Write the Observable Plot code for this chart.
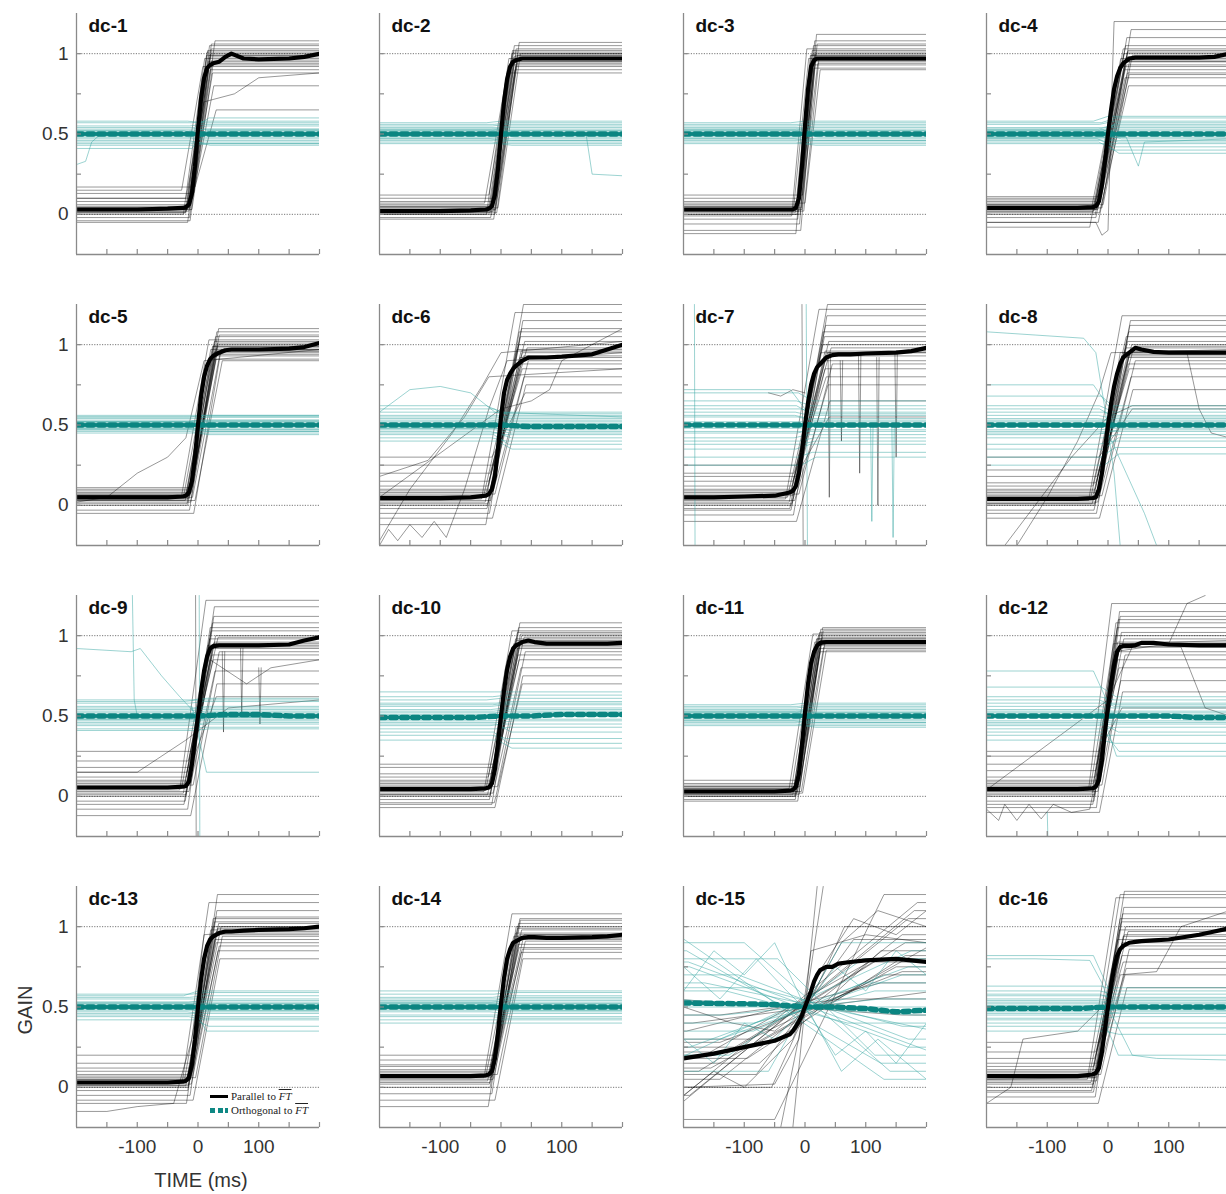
<!DOCTYPE html>
<html>
<head>
<meta charset="utf-8">
<script src="https://cdn.jsdelivr.net/npm/d3@7"></script>
<script src="https://cdn.jsdelivr.net/npm/@observablehq/plot@0.6"></script>
<style>
  html, body { margin: 0; padding: 0; background: #fff; overflow: hidden; width: 1226px; height: 1194px; }
  #fig { position: relative; width: 1226px; height: 1194px; font-family: "Liberation Sans", Arial, sans-serif; color: #333; }
  .panel { position: absolute; }
  .axis-title { position: absolute; font-size: 20px; color: #333; white-space: nowrap; }
  #legend { position: absolute; left: 210px; top: 1090px; font-family: "Liberation Serif", "DejaVu Serif", serif; font-size: 11px; color: #222; line-height: 13.5px; }
  #legend .row { display: flex; align-items: center; }
  #legend .sw { display: inline-block; width: 18px; margin-right: 3px; }
  #legend .sw.par { height: 3px; background: #000; }
  #legend .sw.orth { height: 5px; background: repeating-linear-gradient(to right, #0e8884 0 5px, transparent 5px 7.5px); }
  #legend .ft { font-style: italic; text-decoration: overline; }
</style>
</head>
<body>
<div id="fig"></div>
<script>
// Sixteen recording sessions: gain of the response parallel / orthogonal to FT around the switch time.
const panels = ["dc-1","dc-2","dc-3","dc-4","dc-5","dc-6","dc-7","dc-8",
                "dc-9","dc-10","dc-11","dc-12","dc-13","dc-14","dc-15","dc-16"];

// Mean gain parallel to FT, sampled at meanTimes (ms)
const meanTimes = [-200,-150,-100,-50,-25,-20,-15,-10,-5,0,5,10,15,20,25,35,45,55,75,100,150,175,200];
const parallelMean = [
  [0.03,0.03,0.03,0.035,0.04,0.045,0.06,0.13,0.3,0.53,0.72,0.85,0.91,0.93,0.94,0.95,0.98,1.0,0.97,0.965,0.97,0.98,1.0],
  [0.02,0.02,0.02,0.025,0.03,0.035,0.05,0.12,0.28,0.5,0.7,0.84,0.92,0.95,0.96,0.97,0.97,0.97,0.97,0.97,0.97,0.97,0.97],
  [0.03,0.03,0.03,0.03,0.03,0.03,0.04,0.1,0.3,0.55,0.78,0.92,0.96,0.97,0.97,0.97,0.97,0.97,0.97,0.97,0.97,0.97,0.97],
  [0.04,0.04,0.04,0.04,0.045,0.05,0.08,0.18,0.33,0.5,0.65,0.78,0.86,0.91,0.94,0.97,0.975,0.975,0.975,0.975,0.975,0.98,1.0],
  [0.05,0.05,0.05,0.05,0.055,0.06,0.08,0.15,0.3,0.5,0.68,0.8,0.87,0.91,0.93,0.95,0.965,0.97,0.97,0.97,0.975,0.985,1.01],
  [0.045,0.045,0.045,0.05,0.06,0.07,0.1,0.18,0.35,0.55,0.7,0.78,0.82,0.85,0.87,0.9,0.92,0.92,0.92,0.925,0.94,0.97,1.0],
  [0.05,0.05,0.055,0.06,0.08,0.09,0.12,0.2,0.33,0.5,0.64,0.75,0.82,0.86,0.88,0.92,0.935,0.94,0.94,0.945,0.95,0.96,0.98],
  [0.04,0.04,0.04,0.04,0.045,0.05,0.1,0.2,0.35,0.5,0.63,0.74,0.82,0.88,0.92,0.95,0.98,0.97,0.955,0.95,0.95,0.95,0.95],
  [0.055,0.055,0.055,0.055,0.06,0.065,0.09,0.2,0.35,0.5,0.65,0.78,0.87,0.92,0.935,0.94,0.94,0.94,0.94,0.94,0.945,0.97,0.99],
  [0.045,0.045,0.045,0.045,0.05,0.055,0.08,0.17,0.33,0.5,0.66,0.79,0.87,0.92,0.94,0.96,0.97,0.96,0.95,0.95,0.95,0.95,0.955],
  [0.03,0.03,0.03,0.03,0.035,0.04,0.06,0.14,0.32,0.52,0.7,0.83,0.9,0.94,0.955,0.96,0.96,0.96,0.96,0.96,0.96,0.96,0.96],
  [0.045,0.045,0.045,0.045,0.05,0.06,0.1,0.22,0.4,0.56,0.7,0.82,0.9,0.93,0.935,0.935,0.94,0.955,0.955,0.945,0.94,0.94,0.94],
  [0.03,0.03,0.03,0.03,0.035,0.04,0.06,0.14,0.3,0.5,0.67,0.8,0.88,0.92,0.94,0.96,0.97,0.97,0.975,0.98,0.985,0.99,1.0],
  [0.07,0.07,0.07,0.07,0.075,0.08,0.1,0.18,0.34,0.52,0.68,0.8,0.86,0.9,0.91,0.93,0.935,0.935,0.93,0.93,0.935,0.94,0.95],
  [0.18,0.21,0.25,0.29,0.33,0.35,0.38,0.41,0.45,0.5,0.55,0.6,0.66,0.7,0.73,0.75,0.75,0.77,0.78,0.79,0.8,0.79,0.78],
  [0.07,0.07,0.07,0.07,0.08,0.09,0.12,0.22,0.36,0.5,0.63,0.74,0.82,0.86,0.88,0.9,0.905,0.91,0.915,0.92,0.95,0.97,0.99]
];

// Mean gain orthogonal to FT, sampled at orthTimes (ms)
const orthTimes = [-200,-100,-50,0,50,100,150,200];
const orthMean = [
  [0.5,0.5,0.5,0.5,0.5,0.5,0.5,0.5],
  [0.5,0.5,0.5,0.5,0.5,0.5,0.5,0.5],
  [0.5,0.5,0.5,0.5,0.5,0.5,0.5,0.5],
  [0.5,0.5,0.5,0.5,0.5,0.5,0.5,0.5],
  [0.5,0.5,0.5,0.5,0.5,0.5,0.5,0.5],
  [0.5,0.5,0.5,0.5,0.49,0.49,0.49,0.49],
  [0.5,0.5,0.5,0.5,0.5,0.5,0.5,0.5],
  [0.5,0.5,0.5,0.5,0.5,0.5,0.5,0.5],
  [0.5,0.5,0.5,0.5,0.51,0.51,0.5,0.5],
  [0.49,0.49,0.49,0.5,0.5,0.51,0.51,0.51],
  [0.5,0.5,0.5,0.5,0.5,0.5,0.5,0.5],
  [0.5,0.5,0.5,0.5,0.5,0.5,0.49,0.49],
  [0.5,0.5,0.5,0.5,0.5,0.5,0.5,0.5],
  [0.5,0.5,0.5,0.5,0.5,0.5,0.5,0.5],
  [0.525,0.52,0.515,0.5,0.5,0.49,0.47,0.48],
  [0.49,0.49,0.49,0.5,0.5,0.5,0.5,0.5]
];

// Single-trial gain parallel to FT: level before and after the switch
const parallelBefore = [
  [0.00,0.01,0.02,0.03,0.03,0.04,0.05,0.02,-0.02,-0.04,0.06,0.08,0.10,0.13,0.15,0.17,0.01,0.03,-0.05,0.04],
  [0.00,0.02,0.03,0.01,-0.02,0.04,0.05,0.06,0.08,0.10,-0.03,0.02,0.03,0.01,0.07,0.04,0.12,0.00,0.05,0.02],
  [0.03,0.01,0.05,0.00,-0.03,0.06,0.08,0.02,-0.06,0.10,-0.10,0.04,0.12,0.02,-0.01,0.07,-0.12,0.03,0.05,0.00],
  [0.04,0.02,0.06,0.00,-0.02,0.08,0.05,0.10,0.03,-0.05,0.07,0.01,0.09,0.04,-0.08,0.06,0.02,0.11,0.03,0.05],
  [0.05,0.03,0.07,0.01,0.00,0.09,0.06,0.04,-0.03,0.10,0.02,0.08,0.05,-0.05,0.06,0.03,0.07,0.11,0.04,0.06],
  [0.05,0.02,0.08,-0.02,0.00,0.12,0.06,0.15,-0.05,0.20,0.03,0.10,-0.08,0.25,0.04,0.07,-0.12,0.30,0.01,0.09],
  [0.05,0.02,0.08,-0.03,0.00,0.12,0.06,0.15,-0.06,0.20,0.03,0.10,-0.10,0.25,0.04,0.07,-0.02,0.18,0.01,0.09],
  [0.04,0.01,0.07,-0.03,0.00,0.10,0.05,0.14,-0.05,0.18,0.02,0.09,-0.08,0.22,0.03,0.06,0.12,0.30,0.01,0.08],
  [0.05,0.02,0.08,-0.03,0.00,0.12,0.06,0.15,-0.08,0.22,0.03,0.10,-0.12,0.28,0.04,0.07,-0.05,0.18,0.01,0.09],
  [0.04,0.01,0.07,-0.02,0.00,0.10,0.05,0.14,-0.05,0.18,0.02,0.09,-0.07,0.20,0.03,0.06,0.12,-0.04,0.01,0.08],
  [0.03,0.01,0.05,0.00,-0.02,0.06,0.04,0.08,0.02,-0.03,0.07,0.01,0.10,0.03,0.05,0.02,0.04,0.06,0.00,0.03],
  [0.05,0.02,0.08,-0.03,0.00,0.12,0.06,0.16,-0.07,0.20,0.03,0.10,-0.10,0.25,0.04,0.07,-0.05,0.28,0.01,0.09],
  [0.03,0.01,0.05,-0.02,0.00,0.08,0.04,0.12,-0.05,0.15,0.02,0.07,-0.08,0.20,0.03,0.06,-0.10,0.10,0.01,0.05],
  [0.07,0.04,0.09,0.02,0.00,0.11,0.06,0.14,-0.04,0.17,0.05,0.10,-0.08,0.20,0.06,0.08,-0.12,0.13,0.03,0.07],
  [-0.15,0.05,0.25,-0.05,0.15,0.35,0.00,0.20,0.40,-0.20,0.10,0.30,0.55,0.08,0.18,-0.10,0.28,0.45,0.12,0.22],
  [0.07,0.03,0.10,0.00,-0.03,0.13,0.06,0.18,-0.06,0.22,0.04,0.11,-0.10,0.28,0.05,0.08,-0.02,0.15,0.02,0.09]
];
const parallelAfter = [
  [0.97,0.99,1.02,0.95,0.93,1.05,0.98,0.90,1.00,1.03,0.96,0.88,0.80,1.08,0.92,0.65,1.01,0.94,0.99,1.06],
  [0.97,0.95,1.00,1.02,0.93,0.98,0.96,1.05,0.90,0.99,1.03,0.94,0.97,1.07,0.88,1.00,0.95,0.99,1.01,0.92],
  [0.97,0.99,0.95,1.02,0.93,1.05,0.98,0.91,1.08,0.96,1.00,1.12,0.94,0.97,1.03,0.90,0.99,1.06,0.96,1.01],
  [0.97,0.95,1.00,0.90,0.85,1.05,0.93,0.98,1.10,0.88,1.02,0.80,0.96,1.15,0.92,0.99,1.03,0.87,0.95,1.01],
  [0.97,0.99,0.95,1.02,0.93,1.05,0.98,0.91,1.08,0.96,1.00,1.10,0.94,0.97,1.03,0.90,0.99,1.06,0.96,1.01],
  [0.97,1.00,0.92,1.05,0.88,1.10,0.95,0.85,1.15,0.93,0.80,1.02,0.75,0.98,1.20,0.90,1.08,0.70,0.96,1.25],
  [0.95,1.00,0.90,1.05,0.85,1.12,0.93,0.80,1.18,0.95,0.75,1.02,0.65,0.98,1.22,0.88,1.08,0.55,0.96,1.25],
  [0.95,0.98,0.92,1.02,0.88,1.08,0.94,0.85,1.12,0.96,0.80,1.00,0.72,0.99,1.18,0.90,1.05,0.60,0.93,1.15],
  [0.94,0.98,0.92,1.03,0.88,1.08,0.95,0.85,1.12,0.96,0.78,1.00,0.70,0.99,1.22,0.90,1.05,0.62,0.93,1.18],
  [0.95,0.98,0.92,1.02,0.88,1.05,0.94,0.85,1.08,0.96,0.80,1.00,0.75,0.99,1.03,0.90,0.97,0.70,0.93,1.01],
  [0.96,0.98,0.94,1.00,0.92,1.02,0.97,0.90,1.04,0.95,0.99,1.05,0.93,0.96,1.01,0.91,0.98,1.03,0.95,0.97],
  [0.95,1.00,0.90,1.05,0.85,1.10,0.93,0.80,1.15,0.95,0.72,1.02,0.65,0.98,1.20,0.88,1.08,0.55,0.96,1.12],
  [0.98,1.00,0.95,1.03,0.92,1.06,0.97,0.90,1.10,0.99,0.85,1.02,0.80,1.00,1.15,0.94,1.05,0.88,0.96,1.20],
  [0.94,0.96,0.92,0.99,0.89,1.02,0.95,0.87,1.05,0.93,0.84,0.98,0.80,0.95,1.08,0.91,1.00,0.86,0.93,1.04],
  [1.10,0.95,0.75,1.05,0.85,0.65,1.00,0.80,0.60,1.20,0.90,0.70,0.45,0.92,0.82,1.15,0.72,0.55,0.88,0.78],
  [0.92,0.98,0.88,1.03,0.82,1.08,0.94,0.78,1.12,0.95,0.70,1.00,0.62,0.97,1.18,0.86,1.05,0.74,0.90,1.22]
];

// Single-trial gain orthogonal to FT: level before and after the switch
const orthBefore = [
  [0.50,0.48,0.52,0.46,0.55,0.51,0.49,0.44,0.57,0.53,0.47,0.50,0.54,0.45,0.52,0.49,0.58,0.43,0.51,0.41],
  [0.50,0.47,0.53,0.45,0.55,0.49,0.52,0.46,0.56,0.51,0.48,0.54,0.44,0.50,0.57,0.49,0.52,0.47,0.53,0.51],
  [0.50,0.47,0.53,0.45,0.55,0.49,0.52,0.46,0.56,0.51,0.48,0.54,0.44,0.50,0.57,0.49,0.52,0.47,0.53,0.51],
  [0.50,0.47,0.53,0.45,0.56,0.49,0.52,0.46,0.57,0.51,0.48,0.54,0.44,0.50,0.58,0.49,0.52,0.47,0.53,0.51],
  [0.50,0.48,0.52,0.46,0.55,0.49,0.52,0.47,0.56,0.51,0.48,0.54,0.45,0.50,0.55,0.49,0.52,0.47,0.53,0.51],
  [0.50,0.46,0.54,0.42,0.58,0.48,0.52,0.44,0.60,0.50,0.47,0.55,0.40,0.49,0.62,0.48,0.53,0.45,0.51,0.56],
  [0.50,0.42,0.58,0.35,0.65,0.45,0.55,0.30,0.70,0.48,0.40,0.60,0.25,0.52,0.72,0.46,0.56,0.38,0.62,0.50],
  [0.50,0.44,0.56,0.38,0.62,0.47,0.53,0.30,0.68,0.49,0.42,0.58,0.25,0.51,0.75,0.46,0.54,0.35,0.60,0.52],
  [0.50,0.46,0.54,0.42,0.58,0.48,0.52,0.44,0.60,0.50,0.47,0.55,0.41,0.49,0.59,0.48,0.53,0.45,0.51,0.56],
  [0.50,0.44,0.56,0.38,0.62,0.47,0.53,0.40,0.65,0.49,0.42,0.58,0.35,0.51,0.60,0.46,0.54,0.45,0.57,0.52],
  [0.50,0.47,0.53,0.45,0.55,0.49,0.52,0.46,0.56,0.51,0.48,0.54,0.44,0.50,0.57,0.49,0.52,0.47,0.53,0.51],
  [0.50,0.44,0.56,0.38,0.62,0.47,0.53,0.35,0.68,0.49,0.42,0.58,0.40,0.51,0.78,0.46,0.54,0.45,0.60,0.52],
  [0.50,0.47,0.53,0.44,0.56,0.49,0.52,0.45,0.58,0.51,0.48,0.55,0.42,0.50,0.57,0.49,0.53,0.46,0.52,0.51],
  [0.50,0.47,0.53,0.44,0.56,0.49,0.52,0.42,0.58,0.51,0.48,0.55,0.40,0.50,0.60,0.49,0.53,0.45,0.52,0.54],
  [0.90,0.75,0.60,0.30,0.15,0.80,0.45,0.65,0.20,0.95,0.35,0.55,0.70,0.10,0.85,0.40,0.25,0.62,0.50,0.78],
  [0.50,0.45,0.55,0.40,0.60,0.47,0.53,0.38,0.63,0.49,0.43,0.57,0.35,0.51,0.82,0.46,0.54,0.42,0.58,0.52]
];
const orthAfter = [
  [0.51,0.47,0.53,0.44,0.56,0.50,0.48,0.45,0.58,0.55,0.46,0.52,0.60,0.43,0.50,0.49,0.57,0.44,0.53,0.52],
  [0.49,0.46,0.54,0.44,0.56,0.50,0.51,0.45,0.57,0.52,0.47,0.55,0.43,0.49,0.58,0.48,0.53,0.46,0.52,0.50],
  [0.49,0.46,0.54,0.44,0.56,0.50,0.51,0.45,0.57,0.52,0.47,0.55,0.43,0.49,0.58,0.48,0.53,0.46,0.52,0.50],
  [0.50,0.44,0.55,0.40,0.58,0.48,0.52,0.42,0.60,0.53,0.46,0.56,0.38,0.49,0.61,0.47,0.54,0.45,0.51,0.57],
  [0.50,0.47,0.53,0.45,0.56,0.49,0.51,0.46,0.56,0.52,0.47,0.55,0.44,0.50,0.55,0.48,0.53,0.46,0.52,0.50],
  [0.49,0.44,0.53,0.40,0.57,0.47,0.51,0.38,0.56,0.50,0.45,0.54,0.35,0.48,0.58,0.46,0.52,0.42,0.50,0.55],
  [0.50,0.44,0.56,0.38,0.62,0.47,0.53,0.33,0.65,0.49,0.42,0.58,0.30,0.51,0.60,0.46,0.54,0.40,0.57,0.52],
  [0.50,0.46,0.54,0.40,0.58,0.48,0.52,0.36,0.60,0.49,0.44,0.56,0.32,0.51,0.62,0.47,0.53,0.42,0.55,0.50],
  [0.51,0.47,0.55,0.43,0.59,0.49,0.53,0.45,0.61,0.50,0.48,0.56,0.42,0.50,0.60,0.49,0.54,0.46,0.52,0.15],
  [0.51,0.45,0.57,0.36,0.63,0.48,0.54,0.33,0.65,0.50,0.43,0.59,0.30,0.52,0.61,0.47,0.55,0.40,0.58,0.53],
  [0.49,0.46,0.54,0.44,0.56,0.50,0.51,0.45,0.57,0.52,0.47,0.55,0.43,0.49,0.58,0.48,0.53,0.46,0.52,0.50],
  [0.50,0.45,0.55,0.38,0.60,0.47,0.52,0.33,0.62,0.49,0.43,0.57,0.28,0.51,0.58,0.46,0.53,0.40,0.56,0.25],
  [0.50,0.46,0.54,0.42,0.57,0.48,0.52,0.43,0.59,0.51,0.47,0.55,0.38,0.50,0.60,0.48,0.53,0.44,0.52,0.35],
  [0.50,0.46,0.54,0.43,0.57,0.48,0.52,0.42,0.59,0.51,0.47,0.55,0.40,0.50,0.60,0.48,0.53,0.44,0.52,0.56],
  [0.10,0.25,0.40,0.70,0.85,0.20,0.55,0.35,0.80,0.05,0.65,0.45,0.30,0.90,0.15,0.60,0.75,0.38,0.50,0.22],
  [0.50,0.46,0.54,0.40,0.58,0.48,0.52,0.37,0.60,0.49,0.44,0.56,0.33,0.51,0.62,0.47,0.53,0.20,0.55,0.50]
];

// Start and end of the parallel rise (ms) for each session; dc-15 ramps slowly instead
const riseWindow = [[-15,20],[-15,22],[-10,15],[-18,30],[-15,30],[-20,35],[-20,35],[-20,35],
                    [-18,25],[-16,30],[-14,25],[-20,18],[-14,30],[-16,30],null,[-22,25]];
const orthWindow = [-12, 12];
// Trial-to-trial shift of the switch (ms)
const riseShift = [-9,-6,-4,-3,-2,-1,0,0,1,2,3,4,6,8,-12,10,-5,5,-2,2];
// dc-15: half-width (ms) and centre (ms) of each trial's slow ramp
const slowRampParallel = [200,150,120,180,100,160,60,140,200,90,170,110,190,80,130,200,150,100,180,120];
const slowRampOrth     = [120,180,100,150,200,80,130,190,110,170,90,200,140,60,160,100,180,120,150,200];
const slowRampCentre   = [-20,10,30,-10,25,-35,5,-25,15,40,-5,20,-30,0,35,-15,10,-40,25,-8];

// Individual trials with their own shape: [session index, "par"|"orth", times (ms), gains]
const oddTrials = [
  [0, "orth", [-200,-185,-175,-160,200], [0.31,0.33,0.45,0.5,0.5]],
  [0, "par", [-200,-20,10,60,100,200], [0.1,0.1,0.7,0.75,0.85,0.88]],
  [1, "orth", [-200,140,150,200], [0.5,0.5,0.25,0.24]],
  [3, "orth", [-200,30,50,60,200], [0.48,0.48,0.3,0.45,0.47]],
  [3, "par", [-200,-20,-10,0,5,10,200], [-0.05,-0.05,-0.13,-0.1,0.6,1.2,1.2]],
  [4, "par", [-200,-150,-100,-50,-20,10,200], [0.02,0.05,0.2,0.3,0.42,0.9,0.97]],
  [5, "par", [-200,-150,-80,-30,0,200], [-0.22,0.1,0.45,0.75,0.95,1.02]],
  [5, "par", [-200,-120,-60,-20,200], [0.18,0.28,0.55,0.8,0.85]],
  [5, "par", [-200,-185,-170,-150,-130,-110,-90,-60,-20,10,200], [-0.25,-0.15,-0.22,-0.12,-0.2,-0.1,-0.2,0.1,0.6,0.9,0.95]],
  [5, "orth", [-200,-150,-100,-50,-10,200], [0.58,0.72,0.74,0.7,0.58,0.55]],
  [5, "par", [-200,0,50,80,100,200], [0.05,0.6,0.65,0.72,0.9,1.1]],
  [6, "orth", [-182,-181], [1.25,-0.25]],
  [6, "orth", [2,4], [1.25,-0.25]],
  [6, "par", [-5,-3], [1.25,-0.25]],
  [6, "par", [38,40,42], [0.95,0.05,0.95]],
  [6, "par", [58,60,62], [0.9,0.4,0.9]],
  [6, "par", [88,90,92], [0.95,0.2,0.95]],
  [6, "par", [118,120,122], [0.92,0.0,0.92]],
  [6, "par", [148,150,152], [0.95,0.3,0.95]],
  [6, "orth", [108,110,112], [0.5,-0.1,0.5]],
  [6, "orth", [143,145,147], [0.5,-0.2,0.5]],
  [6, "par", [-60,-40,-20,0], [0.7,0.68,0.72,0.7]],
  [7, "orth", [-200,-120,-40,-20,-5,10,20], [1.08,1.06,1.04,0.95,0.6,0.2,-0.25]],
  [7, "par", [-150,-100,-50,-15,5,200], [-0.25,0.05,0.4,0.7,0.95,0.97]],
  [7, "par", [-170,-120,-60,0,40,200], [-0.25,0.0,0.3,0.55,0.62,0.62]],
  [7, "par", [-200,-15,20,130,150,170,200], [0.05,0.05,0.95,0.95,0.6,0.45,0.42]],
  [7, "orth", [-200,0,30,60,80], [0.45,0.45,0.2,-0.05,-0.25]],
  [8, "orth", [-200,-110,-95,-60,-30,0,200], [0.92,0.9,0.92,0.75,0.62,0.5,0.5]],
  [8, "orth", [-108,-105,-100], [1.25,0.6,0.5]],
  [8, "par", [-4,-3], [1.25,-0.25]],
  [8, "orth", [2,3], [1.25,-0.25]],
  [8, "par", [40,42,44], [0.9,0.4,0.9]],
  [8, "par", [70,72,74], [0.92,0.5,0.92]],
  [8, "par", [100,102,104], [0.8,0.45,0.8]],
  [8, "par", [-200,-100,-20,50,200], [0.15,0.15,0.35,0.55,0.6]],
  [8, "par", [-200,-20,20,80,120,200], [0.05,0.06,0.85,0.7,0.8,0.85]],
  [11, "par", [-200,-20,10,100,130,160], [0.05,0.05,0.9,0.95,1.2,1.25]],
  [11, "par", [-200,0,40,120,160,200], [0.04,0.6,0.93,0.93,0.55,0.5]],
  [11, "orth", [-100,-99], [-0.1,-0.25]],
  [11, "par", [-200,-180,-170,-150,-130,-110,-90,-60,-30,0,20,200], [-0.08,-0.15,-0.05,-0.15,-0.05,-0.14,-0.05,-0.1,-0.08,0.5,0.95,0.97]],
  [12, "par", [-200,-150,-100,-40,-10,10,200], [-0.15,-0.15,-0.12,-0.1,0.3,0.95,1.0]],
  [14, "par", [-20,0,20], [-0.25,0.5,1.25]],
  [14, "par", [-40,0,30], [-0.25,0.5,1.25]],
  [14, "par", [-200,-50,-10,10,100,200], [0.0,0.02,0.3,0.85,0.95,0.9]],
  [14, "orth", [-200,-150,-100,-50,0,50,100,150,200], [0.6,0.85,0.7,0.9,0.5,0.2,0.35,0.15,0.4]],
  [14, "orth", [-200,-150,-100,-50,0,50,100,150,200], [0.3,0.15,0.4,0.3,0.5,0.75,0.6,0.85,0.7]],
  [14, "par", [-200,-120,-50,0,60,120,200], [0.5,0.4,0.35,0.5,0.9,1.1,1.0]],
  [14, "par", [-200,-150,-100,-60,-20,20,80,150,200], [-0.05,0.1,0.0,0.15,0.3,0.7,1.05,0.95,1.1]],
  [14, "orth", [-200,-140,-80,-30,10,60,120,200], [0.75,0.55,0.8,0.6,0.45,0.1,0.3,0.05]],
  [15, "orth", [-200,-120,-30,-10,5,200], [0.8,0.8,0.79,0.65,0.5,0.48]],
  [15, "orth", [-200,0,20,40,80,200], [0.5,0.5,0.35,0.2,0.18,0.17]],
  [15, "par", [-200,-20,20,80,120,200], [0.05,0.06,0.7,0.72,1.0,1.1]],
  [15, "par", [-200,-160,-140,-50,-10,20,200], [-0.1,0.0,0.3,0.35,0.5,1.2,1.2]]
];

// Axis ticks and labels
const xTicks = [-150,-100,-50,0,50,100,150,200];
const xTickLabels = [-100,0,100];
const yTicks = [0,0.25,0.5,0.75,1];
const yTickLabels = [0,0.5,1];
const guideLevels = [0,1];

// Layout of the 4 x 4 grid (plot frame positions, px)
const frameW = 243, frameH = 241;
const colLeft = [76, 379, 683, 986];
const rowTop = [13, 304, 595, 886];
const mL = 70, mR = 8, mT = 6, mB = 46;
const xDomain = [-200, 200], yDomain = [-0.25, 1.25];
const tickLenX = 5 / frameW * (xDomain[1] - xDomain[0]);
const tickLenY = 5 / frameH * (yDomain[1] - yDomain[0]);

const tealThin = "#35a6a1", tealMean = "#0b8581", axisGray = "#8a8a8a";
const fig = document.getElementById("fig");

function pushStep(rows, id, a, b, s, e) {
  rows.push({id, t: -200, v: a}, {id, t: s, v: a}, {id, t: e, v: b}, {id, t: 200, v: b});
}

panels.forEach((name, p) => {
  const row = Math.floor(p / 4), col = p % 4;
  const parRows = [], orthRows = [];
  const n = parallelBefore[p].length;
  for (let k = 0; k < n; k++) {
    if (riseWindow[p]) {
      const [s, e] = riseWindow[p];
      pushStep(parRows, "p" + k, parallelBefore[p][k], parallelAfter[p][k], s + riseShift[k], e + riseShift[k]);
      pushStep(orthRows, "o" + k, orthBefore[p][k], orthAfter[p][k], orthWindow[0] + riseShift[k], orthWindow[1] + riseShift[k]);
    } else {
      const c = slowRampCentre[k];
      pushStep(parRows, "p" + k, parallelBefore[p][k], parallelAfter[p][k], c - slowRampParallel[k], c + slowRampParallel[k]);
      pushStep(orthRows, "o" + k, orthBefore[p][k], orthAfter[p][k], -c - slowRampOrth[k], -c + slowRampOrth[k]);
    }
  }
  oddTrials.forEach(([idx, kind, ts, vs], j) => {
    if (idx !== p) return;
    const target = kind === "par" ? parRows : orthRows;
    ts.forEach((t, i) => target.push({id: "x" + j, t, v: vs[i]}));
  });
  const parMean = meanTimes.map((t, i) => ({t, v: parallelMean[p][i]}));
  const orthMeanRows = orthTimes.map((t, i) => ({t, v: orthMean[p][i]}));

  const marks = [
    Plot.ruleY(guideLevels, {stroke: "#555", strokeWidth: 0.8, strokeDasharray: "1.2,1.4"}),
    Plot.line(parRows, {x: "t", y: "v", z: "id", stroke: "#000", strokeOpacity: 0.45, strokeWidth: 0.9, clip: true}),
    Plot.line(orthRows, {x: "t", y: "v", z: "id", stroke: tealThin, strokeOpacity: 0.55, strokeWidth: 0.9, clip: true}),
    Plot.line(orthMeanRows, {x: "t", y: "v", stroke: tealMean, strokeWidth: 5.5, strokeDasharray: "6,5", clip: true}),
    Plot.line(parMean, {x: "t", y: "v", stroke: "#000", strokeWidth: 4.2, clip: true}),
    // axis lines and inward ticks
    Plot.ruleX([xDomain[0]], {y1: yDomain[0], y2: yDomain[1], stroke: axisGray, strokeWidth: 1.3}),
    Plot.ruleY([yDomain[0]], {x1: xDomain[0], x2: xDomain[1], stroke: axisGray, strokeWidth: 1.3}),
    Plot.ruleY(yTicks, {y: d => d, x1: xDomain[0], x2: xDomain[0] + tickLenX, stroke: axisGray, strokeWidth: 1.2}),
    Plot.ruleX(xTicks, {x: d => d, y1: yDomain[0], y2: yDomain[0] + tickLenY, stroke: axisGray, strokeWidth: 1.2}),
    Plot.text([name], {frameAnchor: "top-left", dx: 12, dy: 5, fontSize: 19, fontWeight: "bold", fill: "#111",
                       fontFamily: "Liberation Sans, Arial, sans-serif"})
  ];
  if (col === 0) {
    marks.push(Plot.text(yTickLabels, {y: d => d, frameAnchor: "left", textAnchor: "end", dx: -8, fontSize: 19,
      fill: "#333", text: d => String(d), fontFamily: "Liberation Sans, Arial, sans-serif"}));
  }
  if (row === 3) {
    marks.push(Plot.text(xTickLabels, {x: d => d, frameAnchor: "bottom", lineAnchor: "top", dy: 12, fontSize: 19,
      fill: "#333", text: d => String(d), fontFamily: "Liberation Sans, Arial, sans-serif"}));
  }

  const chart = Plot.plot({
    width: mL + frameW + mR,
    height: mT + frameH + mB,
    marginLeft: mL, marginRight: mR, marginTop: mT, marginBottom: mB,
    x: {domain: xDomain, axis: null},
    y: {domain: yDomain, axis: null},
    style: {background: "transparent", overflow: "visible", fontFamily: "Liberation Sans, Arial, sans-serif"},
    marks
  });
  const holder = document.createElement("div");
  holder.className = "panel";
  holder.style.left = (colLeft[col] - mL) + "px";
  holder.style.top = (rowTop[row] - mT) + "px";
  holder.style.width = (mL + frameW + mR) + "px";
  holder.appendChild(chart);
  fig.appendChild(holder);
});

// Axis titles
const gain = document.createElement("div");
gain.className = "axis-title";
gain.textContent = "GAIN";
gain.style.left = "25px"; gain.style.top = "1010px";
gain.style.transform = "translate(-50%, -50%) rotate(-90deg)";
fig.appendChild(gain);

const time = document.createElement("div");
time.className = "axis-title";
time.textContent = "TIME (ms)";
time.style.left = "201px"; time.style.top = "1180px";
time.style.transform = "translate(-50%, -50%)";
fig.appendChild(time);

// Legend inside dc-13
const legend = document.createElement("div");
legend.id = "legend";
legend.innerHTML =
  '<div class="row"><span class="sw par"></span>Parallel to&nbsp;<span class="ft">FT</span></div>' +
  '<div class="row"><span class="sw orth"></span>Orthogonal to&nbsp;<span class="ft">FT</span></div>';
fig.appendChild(legend);
</script>
</body>
</html>
